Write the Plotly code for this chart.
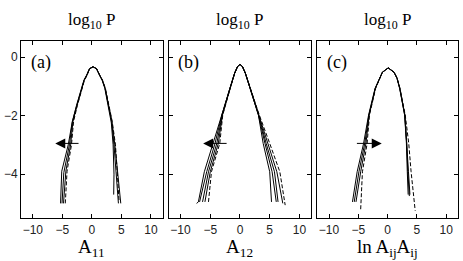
import plotly.graph_objects as go

# ---------------- data ----------------
# panel (a): A_11
a1_x = [-5.3, -5.1, -4.0, -3.35, -2.6, -1.8, -1.35, -0.9, -0.4, 0.2, 0.8, 1.3, 1.75, 2.2, 2.75, 3.3, 3.6, 3.75, 3.7]
a1_y = [-5.0, -3.9, -3.0, -2.25, -1.65, -1.07, -0.79, -0.62, -0.40, -0.33, -0.40, -0.62, -0.79, -1.07, -1.65, -2.25, -3.0, -4.0, -4.7]
a2_x = [-5.05, -4.75, -3.8, -3.3, -2.55, -1.75, -1.3, -0.85, -0.4, 0.2, 0.8, 1.3, 1.75, 2.25, 2.8, 3.35, 3.75, 4.15, 4.5]
a2_y = [-5.0, -3.95, -3.0, -2.2, -1.65, -1.07, -0.79, -0.62, -0.40, -0.33, -0.40, -0.62, -0.79, -1.07, -1.65, -2.2, -3.0, -4.0, -5.0]
a3_x = [-4.8, -4.4, -3.6, -3.2, -2.5, -1.7, -1.3, -0.85, -0.4, 0.2, 0.8, 1.35, 1.8, 2.25, 2.85, 3.4, 3.9, 4.4, 4.9]
a3_y = [-5.0, -3.9, -3.0, -2.2, -1.65, -1.07, -0.79, -0.62, -0.40, -0.33, -0.40, -0.62, -0.79, -1.07, -1.65, -2.2, -3.0, -4.0, -5.0]
a4_x = [-4.5, -4.2, -3.45, -3.1, -2.45, -1.7, -1.25, -0.8, -0.4, 0.2, 0.8, 1.35, 1.8, 2.3, 2.9, 3.45, 4.0, 4.3, 4.6]
a4_y = [-5.0, -3.9, -3.0, -2.2, -1.65, -1.07, -0.79, -0.62, -0.40, -0.33, -0.40, -0.62, -0.79, -1.07, -1.65, -2.2, -3.0, -3.8, -4.9]

# panel (b): A_12
b1_x = [-7.3, -7.0, -6.0, -4.5, -3.1, -1.7, -0.9, -0.4, 0.0, 0.4, 0.9, 1.7, 3.1, 3.9, 5.0, 5.3]
b1_y = [-5.0, -4.95, -3.92, -2.95, -1.98, -1.07, -0.55, -0.32, -0.25, -0.32, -0.55, -1.07, -1.98, -2.95, -3.92, -4.95]
b2_x = [-6.8, -5.6, -4.2, -3.05, -1.7, -0.9, -0.4, 0.0, 0.4, 0.9, 1.7, 3.1, 4.2, 5.4, 6.1]
b2_y = [-4.95, -3.92, -2.95, -1.98, -1.07, -0.55, -0.32, -0.25, -0.32, -0.55, -1.07, -1.98, -2.95, -3.92, -4.95]
b3_x = [-6.3, -5.3, -3.9, -3.0, -1.7, -0.9, -0.4, 0.0, 0.4, 0.9, 1.7, 3.15, 4.4, 5.8, 6.4]
b3_y = [-4.95, -3.92, -2.95, -1.98, -1.07, -0.55, -0.32, -0.25, -0.32, -0.55, -1.07, -1.98, -2.95, -3.92, -4.95]
b4_x = [-5.9, -5.0, -3.65, -2.95, -1.65, -0.9, -0.4, 0.0, 0.4, 0.9, 1.75, 3.2, 4.7, 6.2, 7.2]
b4_y = [-4.95, -3.92, -2.95, -1.98, -1.07, -0.55, -0.32, -0.25, -0.32, -0.55, -1.07, -1.98, -2.95, -3.92, -5.0]
b5_x = [-5.3, -4.8, -3.4, -2.9, -1.65, -0.9, -0.4, 0.0, 0.4, 0.9, 1.75, 3.25, 5.0, 6.7, 7.6]
b5_y = [-4.95, -3.92, -2.95, -1.98, -1.07, -0.55, -0.32, -0.25, -0.32, -0.55, -1.07, -1.98, -2.95, -3.92, -5.06]

# panel (c): ln A_ij A_ij
c1_x = [-6.0, -5.2, -4.1, -3.25, -2.15, -1.4, -0.9, 0.1, 1.1, 1.6, 2.1, 2.9, 3.2, 3.35, 3.5]
c1_y = [-4.95, -3.92, -2.95, -1.98, -1.07, -0.72, -0.52, -0.37, -0.52, -0.72, -1.07, -1.98, -2.95, -3.92, -4.7]
c2_x = [-5.7, -4.9, -3.9, -3.2, -2.1, -1.4, -0.9, 0.1, 1.1, 1.6, 2.05, 2.9, 3.25, 3.45, 3.7]
c2_y = [-4.95, -3.92, -2.95, -1.98, -1.07, -0.72, -0.52, -0.37, -0.52, -0.72, -1.07, -1.98, -2.95, -3.92, -4.75]
c3_x = [-5.4, -4.6, -3.7, -3.15, -2.1, -1.4, -0.9, 0.1, 1.1, 1.6, 2.05, 2.95, 3.3, 3.55, 3.8]
c3_y = [-4.95, -3.92, -2.95, -1.98, -1.07, -0.72, -0.52, -0.37, -0.52, -0.72, -1.07, -1.98, -2.95, -3.92, -4.7]
c4_x = [-4.6, -4.3, -3.5, -3.1, -2.05, -1.35, -0.9, 0.1, 1.1, 1.6, 2.1, 3.0, 3.6, 4.0, 4.7]
c4_y = [-5.2, -3.92, -2.95, -1.98, -1.07, -0.72, -0.52, -0.37, -0.52, -0.72, -1.07, -1.98, -2.95, -3.92, -5.25]

# arrows: (tail x, head x, y)
arrow_a = (-2.0, -6.2, -2.95)
arrow_b = (-2.0, -6.2, -2.95)
arrow_c = (-5.5, -1.0, -2.95)

x_ticks = [-10, -5, 0, 5, 10]
y_ticks = [0, -2, -4]
panel_labels = ["(a)", "(b)", "(c)"]
x_titles = ["A<sub>11</sub>", "A<sub>12</sub>", "ln A<sub>ij</sub>A<sub>ij</sub>"]
y_title = "log<sub>10</sub> P"

panels = [
    ([(a1_x, a1_y, "solid"), (a2_x, a2_y, "solid"), (a3_x, a3_y, "solid"), (a4_x, a4_y, "dash")], arrow_a),
    ([(b1_x, b1_y, "solid"), (b2_x, b2_y, "solid"), (b3_x, b3_y, "solid"), (b4_x, b4_y, "solid"), (b5_x, b5_y, "dash")], arrow_b),
    ([(c1_x, c1_y, "solid"), (c2_x, c2_y, "solid"), (c3_x, c3_y, "solid"), (c4_x, c4_y, "dash")], arrow_c),
]

# ---------------- figure ----------------
W, H = 463, 261
ML, MR, MT, MB = 18, 4, 41, 43
PW = W - ML - MR
domains = [(18, 161), (167, 311), (317, 459)]

fig = go.Figure()
serif = "Liberation Serif, Times New Roman, serif"
sans = "Liberation Sans, Arial, sans-serif"

for i, (curves, arrow) in enumerate(panels):
    n = "" if i == 0 else str(i + 1)
    xa, ya = "x" + n, "y" + n
    for cx, cy, dash in curves:
        fig.add_trace(go.Scatter(x=cx, y=cy, mode="lines", xaxis=xa, yaxis=ya,
                                 line=dict(color="black", width=1, dash=dash if dash == "solid" else "4px,2px"),
                                 showlegend=False, hoverinfo="skip"))
    d0, d1 = domains[i]
    axis_common = dict(showline=True, linecolor="black", linewidth=1, mirror="ticks",
                       ticks="inside", ticklen=4, tickcolor="black", showgrid=False, zeroline=False,
                       tickfont=dict(family=sans, size=12, color="#222"))
    fig.layout["xaxis" + n] = dict(domain=[(d0 - ML) / PW, (d1 - ML) / PW], range=[-12, 12],
                                   tickvals=x_ticks, anchor=ya, ticklabelstandoff=1, **axis_common)
    fig.layout["yaxis" + n] = dict(domain=[0, 1], range=[-5.5, 0.55], tickvals=y_ticks, anchor=xa,
                                   showticklabels=(i == 0), ticklabelstandoff=0, **axis_common)
    # title above
    fig.add_annotation(text=y_title, xref=xa, x=0, yref="paper", y=1.115, showarrow=False,
                       xanchor="center", yanchor="middle", font=dict(family=serif, size=17, color="black"))
    # x title below
    fig.add_annotation(text=x_titles[i], xref=xa, x=0, yref="paper", y=-0.088, showarrow=False,
                       xanchor="center", yanchor="top", font=dict(family=serif, size=19, color="black"))
    # panel label
    fig.add_annotation(text=panel_labels[i], xref=xa + " domain", x=0.055, yref=ya + " domain", y=0.881,
                       showarrow=False, xanchor="left", yanchor="middle",
                       font=dict(family=serif, size=18, color="black"))
    # arrow
    tx, hx, ay = arrow
    fig.add_annotation(x=hx, y=ay, ax=tx, ay=ay, xref=xa, yref=ya, axref=xa, ayref=ya, text="",
                       showarrow=True, arrowhead=2, arrowsize=2, arrowwidth=1, arrowcolor="black")

fig.update_layout(width=W, height=H, margin=dict(l=ML, r=MR, t=MT, b=MB),
                  paper_bgcolor="white", plot_bgcolor="white")

fig.write_html("out.html", config={"displayModeBar": False},
               post_script="document.body.style.margin='0';document.body.style.padding='0';")
